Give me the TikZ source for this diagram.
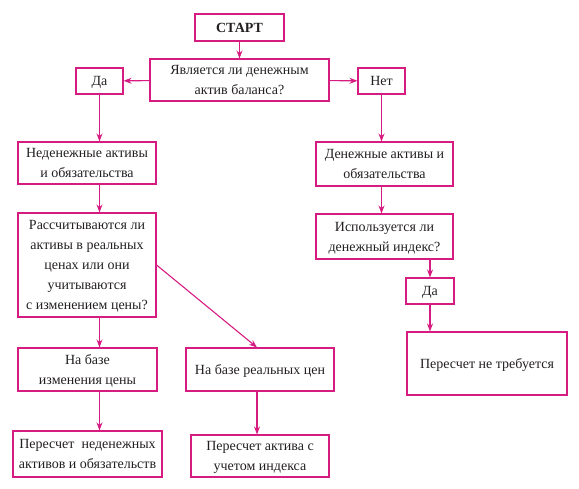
\documentclass[tikz,border=0pt]{standalone}
\usepackage{fontspec}
\setmainfont{Liberation Serif}
\usepackage{tikz}
\usetikzlibrary{arrows.meta, positioning, calc}
\definecolor{FlowPink}{RGB}{214, 28, 128}
\definecolor{TextGray}{RGB}{35, 31, 32}

\begin{document}
\begin{tikzpicture}[x=1pt, y=-1pt, font=\fontsize{14}{20}\selectfont,
  box/.style={draw=FlowPink, line width=1.1pt, align=center, inner sep=2pt, text=TextGray, text depth=-1pt},
  flow/.style={FlowPink, line width=1.1pt, -{Stealth[length=8pt, width=6pt]}}]
\useasboundingbox (0,0) rectangle (579,489);
\node[box, minimum width=89, minimum height=27, font=\fontsize{14}{20}\selectfont\bfseries] (start) at (239.5,27.5) {СТАРТ};
\node[box, minimum width=179, minimum height=42] (quest) at (239.5,80) {Является ли денежным\\актив баланса?};
\node[box, minimum width=47, minimum height=26] (yesL) at (99.5,81) {Да};
\node[box, minimum width=47, minimum height=26] (noR) at (381.5,81) {Нет};
\node[box, minimum width=138, minimum height=42] (nonmon) at (87,163) {Неденежные активы\\и обязательства};
\node[box, minimum width=137, minimum height=44] (mon) at (384.5,164) {Денежные активы и\\обязательства};
\node[box, minimum width=138, minimum height=104] (calc) at (87,265) {Рассчитываются ли\\активы в реальных\\ценах или они\\учитываются\\с изменением цены?};
\node[box, minimum width=137, minimum height=45] (idx) at (384.5,236.5) {Используется ли\\денежный индекс?};
\node[box, minimum width=48, minimum height=26] (yesR) at (430,291) {Да};
\node[box, minimum width=160, minimum height=63] (norecalc) at (487,363.5) {Пересчет не требуется};
\node[box, minimum width=139, minimum height=43] (basechg) at (87.5,369.5) {На базе\\изменения цены};
\node[box, minimum width=148, minimum height=43] (basereal) at (260,369.5) {На базе реальных цен};
\node[box, minimum width=149, minimum height=46] (recalcnon) at (87.5,454) {Пересчет\ \ неденежных\\активов и обязательств};
\node[box, minimum width=138, minimum height=42] (recalcidx) at (260,456) {Пересчет актива с\\учетом индекса};
\draw[flow] (start) -- (quest);
\draw[flow] (quest) -- (yesL);
\draw[flow] (quest) -- (noR);
\draw[flow] (yesL) -- (yesL |- nonmon.north);
\draw[flow] (nonmon.south -| yesL) -- (calc.north -| yesL);
\draw[flow] (calc.south -| yesL) -- (basechg.north -| yesL);
\draw[flow] (basechg.south -| yesL) -- (recalcnon.north -| yesL);
\draw[flow] (calc.east) -- ($(basereal.north)+(-3,0)$);
\draw[flow] ($(basereal.south)+(-3,0)$) -- ($(recalcidx.north)+(-3,0)$);
\draw[flow] (noR) -- (noR |- mon.north);
\draw[flow] (mon.south -| noR) -- (idx.north -| noR);
\draw[flow] (idx.south -| yesR) -- (yesR);
\draw[flow] (yesR) -- (yesR |- norecalc.north);
\end{tikzpicture}
\end{document}
